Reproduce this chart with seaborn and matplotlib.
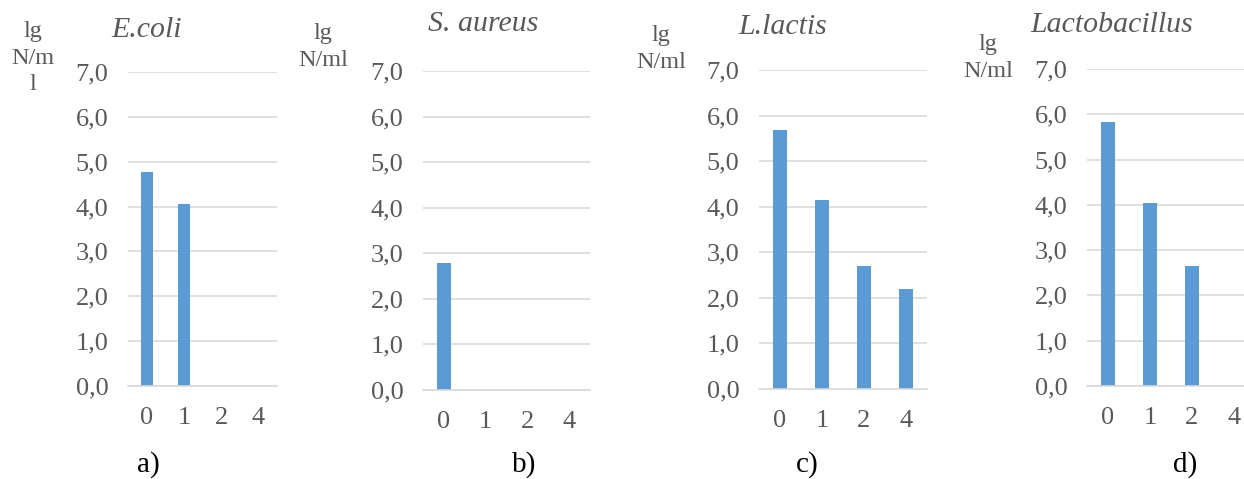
import matplotlib
matplotlib.use("Agg")
import matplotlib.pyplot as plt
import seaborn as sns

days = ['0', '1', '2', '4']
ecoli = [4.76, 4.06, 0.0, 0.0]
saureus = [2.78, 0.0, 0.0, 0.0]
llactis = [5.69, 4.15, 2.69, 2.19]
lactobacillus = [5.84, 4.05, 2.64, 0.0]

titles = ['E.coli', 'S. aureus', 'L.lactis', 'Lactobacillus']
ylabels = ['lg\nN/m\nl', 'lg\nN/ml', 'lg\nN/ml', 'lg\nN/ml']
panel_tags = ['a)', 'b)', 'c)', 'd)']
series = [ecoli, saureus, llactis, lactobacillus]

sns.set_style("white")
plt.rcParams['font.family'] = ['Liberation Serif', 'DejaVu Serif']

W, H = 1244, 479
fig = plt.figure(figsize=(W / 100, H / 100), dpi=100)

# axes boxes in pixels: left, top(7,0), right, bottom(0,0)
boxes = [(128, 72, 277, 386), (423, 71, 590, 390),
         (759, 70, 927, 389), (1087, 69, 1255, 386)]
ylab_pos = [(33, 58), (323, 47), (661, 49), (988, 58)]
title_pos = [(147, 30), (483, 24), (783, 27), (1112, 25)]
tag_pos = [(148, 465), (524, 465), (807, 465), (1185, 465)]

grey = '#595959'
bar_color = '#5b9bd5'

for i, vals in enumerate(series):
    l, t, r, b = boxes[i]
    ax = fig.add_axes([l / W, 1 - b / H, (r - l) / W, (b - t) / H])
    sns.barplot(x=days, y=vals, color=bar_color, width=0.32, saturation=1,
                ax=ax, linewidth=0)
    ax.set_ylim(0, 7)
    ax.set_yticks(range(0, 8))
    ax.set_yticklabels([f"{v},0" for v in range(0, 8)])
    ax.grid(axis='y', color='#d9d9d9', linewidth=1.2)
    ax.set_axisbelow(True)
    for s in ['top', 'right', 'left']:
        ax.spines[s].set_visible(False)
    ax.spines['bottom'].set_color('#d9d9d9')
    ax.spines['bottom'].set_linewidth(1.2)
    ax.tick_params(axis='both', length=0, labelsize=19, labelcolor=grey)
    ax.tick_params(axis='y', pad=14)
    ax.tick_params(axis='x', pad=15)
    ax.set_xlabel('')
    ax.set_ylabel('')

    x, y = ylab_pos[i]
    fig.text(x / W, 1 - y / H, ylabels[i], ha='center', va='center',
             fontsize=17.5, color=grey, linespacing=1.35)
    x, y = title_pos[i]
    fig.text(x / W, 1 - y / H, titles[i], ha='center', va='center',
             fontsize=21.5, color=grey, style='italic')
    x, y = tag_pos[i]
    fig.text(x / W, 1 - y / H, panel_tags[i], ha='center', va='center',
             fontsize=21, color='black')

fig.savefig('out.png', dpi=100)
